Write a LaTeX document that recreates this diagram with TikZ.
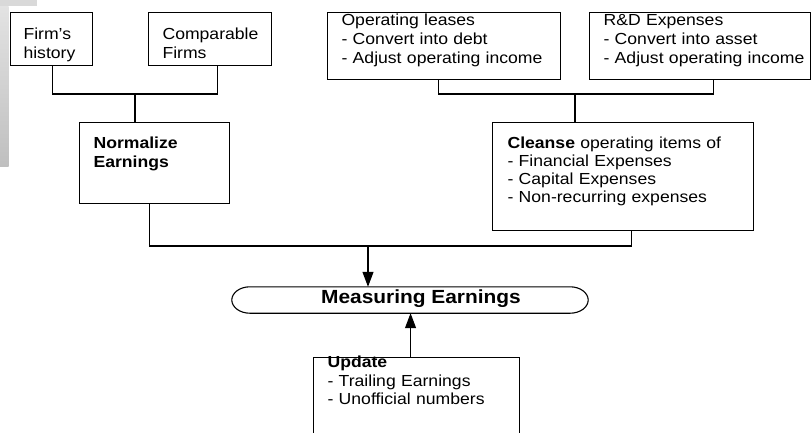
\documentclass[tikz,border=0pt]{standalone}
\usepackage{fontspec}
\setmainfont{Liberation Sans}[FakeStretch=1.1]
\usetikzlibrary{arrows.meta,calc}
\newcommand{\boxtext}[2]{\hspace*{#1}\begin{tabular}[t]{@{}l@{}}#2\end{tabular}}
\begin{document}
\begin{tikzpicture}[x=1pt,y=-1pt,
  box/.style={draw, line width=1.1pt, anchor=north west, inner xsep=0pt, inner ysep=0pt,
    align=left, font=\fontsize{16}{18.6}\selectfont},
  conn/.style={line width=1.1pt},
  arr/.style={line width=1.1pt, -{Triangle[length=15pt,width=11pt]}},
  outline/.style={line width=1.1pt}]
\clip (0,0) rectangle (811,432);
% decorative gray strip
\fill[gray!30] (0,0) rectangle (37,6);
\shade[top color=gray!22, bottom color=gray!50] (0,6) rectangle (8.5,166);
% boxes
\node[box, text width=82pt, text height=27pt, text depth=26pt] (hist) at (10,12)
  {\boxtext{13pt}{Firm's\\history}};
\node[box, text width=123pt, text height=27pt, text depth=26pt] (comp) at (148,12)
  {\boxtext{14pt}{Comparable\\Firms}};
\node[box, text width=233pt, text height=13pt, text depth=54pt, font=\fontsize{16}{19}\selectfont] (ops) at (327,12)
  {\boxtext{14pt}{Operating leases\\- Convert into debt\\- Adjust operating income}};
\node[box, text width=221.4pt, text height=13pt, text depth=54pt, font=\fontsize{16}{19}\selectfont] (rd) at (589,12)
  {\boxtext{14pt}{R\&D Expenses\\- Convert into asset\\- Adjust operating income}};
\node[box, text width=150pt, text height=26pt, text depth=55pt] (norm) at (79,122)
  {\boxtext{14pt}{\textbf{Normalize}\\\textbf{Earnings}}};
\node[box, text width=261pt, text height=26pt, text depth=82pt, font=\fontsize{16}{18}\selectfont] (cleanse) at (492,122)
  {\boxtext{15pt}{\textbf{Cleanse} operating items of\\- Financial Expenses\\- Capital Expenses\\- Non-recurring expenses}};
\node[box, text width=206pt, text height=10pt, text depth=83pt, font=\fontsize{16}{18.5}\selectfont] (update) at (313,357)
  {\boxtext{14pt}{\textbf{Update}\\- Trailing Earnings\\- Unofficial numbers}};
% measuring earnings
\node[minimum width=356pt, minimum height=26pt, inner sep=0pt, text height=10pt, text depth=4pt,
  font=\fontsize{19}{22}\selectfont\bfseries] (meas) at (410,300) {\hspace*{22pt}Measuring Earnings};
\draw[outline] ($(meas.north west)+(18,0)$) -- ($(meas.north east)+(-18,0)$)
  .. controls ($(meas.north east)+(-8.1,0)$) and ($(meas.east)+(0,-7.2)$) .. (meas.east)
  .. controls ($(meas.east)+(0,7.2)$) and ($(meas.south east)+(-8.1,0)$) .. ($(meas.south east)+(-18,0)$)
  -- ($(meas.south west)+(18,0)$)
  .. controls ($(meas.south west)+(8.1,0)$) and ($(meas.west)+(0,7.2)$) .. (meas.west)
  .. controls ($(meas.west)+(0,-7.2)$) and ($(meas.north west)+(8.1,0)$) .. ($(meas.north west)+(18,0)$) -- cycle;
% junctions
\coordinate (j1) at (135,94);
\coordinate (j2) at (575,94);
\coordinate (j3) at (368,246);
\draw[conn] ([xshift=1pt]hist.south) |- (j1);
\draw[conn] ([xshift=7.5pt]comp.south) |- (j1);
\draw[conn] (j1) -- (j1 |- norm.north);
\draw[conn] ([xshift=-5.5pt]ops.south) |- (j2);
\draw[conn] ([xshift=13.3pt]rd.south) |- (j2);
\draw[conn] (j2) -- (j2 |- cleanse.north);
\draw[conn] ([xshift=-5pt]norm.south) |- (j3);
\draw[conn] ([xshift=8.5pt]cleanse.south) |- (j3);
\draw[arr] (j3) -- (j3 |- meas.north);
\draw[arr] ([xshift=-6pt]update.north) -- ([xshift=-6pt]update.north |- meas.south);
\end{tikzpicture}
\end{document}
